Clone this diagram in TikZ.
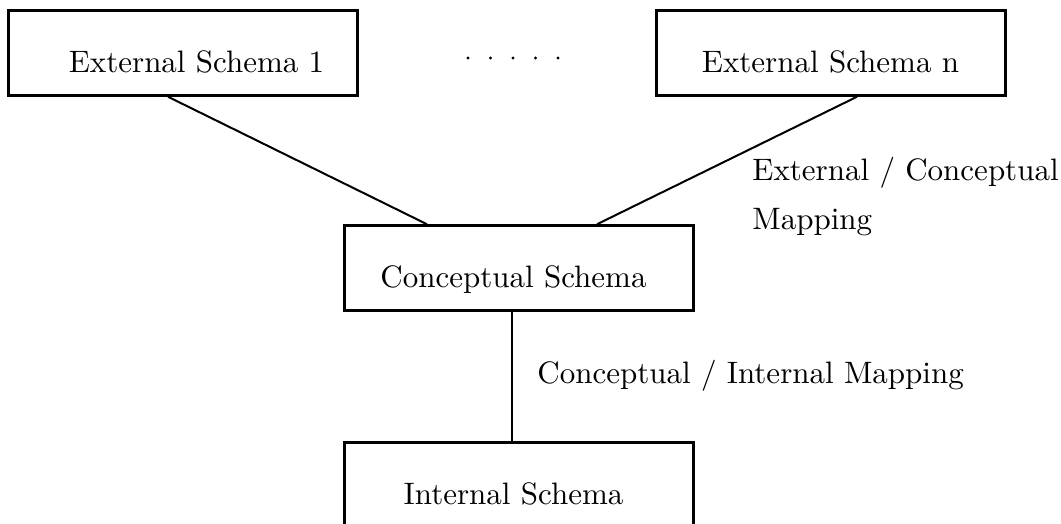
\documentclass[tikz,border=0pt]{standalone}
\usepackage{fontspec}
\setmainfont{lmroman10-regular.otf}
\usepackage{tikz}

\tikzset{
  schema/.style={draw, line width=1.5pt, minimum width=174.5pt, minimum height=42.5pt,
    inner sep=0pt, text height=31pt, text depth=11.5pt},
  mapline/.style={line width=1pt},
  maplabel/.style={inner sep=0pt, anchor=base west, align=left}
}

\begin{document}
\begin{tikzpicture}[x=0.5pt, y=-0.5pt, font=\fontsize{15.5}{24.5}\selectfont]
\useasboundingbox (0,0) rectangle (1061,524);
% the schema boxes
\node[schema] (ext1) at (182.5,52.75) {\hspace*{14pt}External Schema 1};
\node[schema] (extn) at (830.5,52.75) {External Schema n};
\node[schema] (concept) at (518.5,268.25) {Conceptual Schema\hspace*{5pt}};
\node[schema] (internal) at (518.5,484.5) {Internal Schema\hspace*{5pt}};
\foreach \x in {468,490.5,513,535.5,558}
  \fill (\x,58) circle (0.8pt);
% mappings
\draw[mapline] ([xshift=-7.25pt]ext1.south) -- ([xshift=-45.75pt]concept.north);
\draw[mapline] ([xshift=13.25pt]extn.south) -- ([xshift=39.25pt]concept.north);
\draw[mapline] ([xshift=-3.25pt]concept.south) -- ([xshift=-3.25pt]internal.north);
\node[maplabel] (extmap) at (752,229) {External / Conceptual\\Mapping};
\node[maplabel] (intmap) at (537,383) {Conceptual / Internal Mapping};
\end{tikzpicture}
\end{document}
